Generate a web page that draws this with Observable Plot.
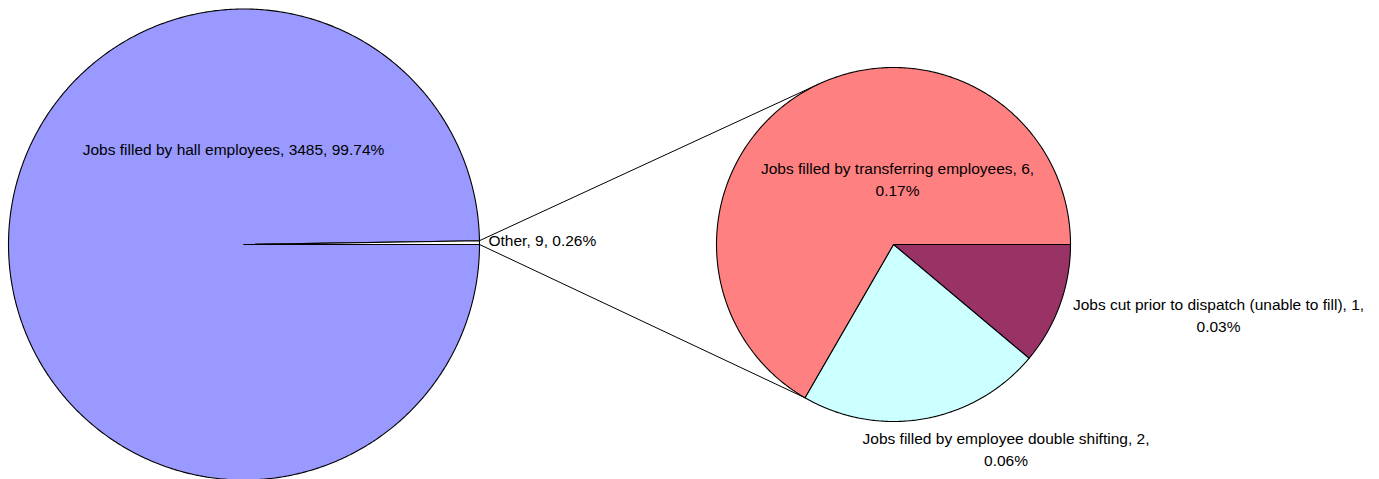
<!DOCTYPE html>
<html>
<head>
<meta charset="utf-8">
<script src="https://cdn.jsdelivr.net/npm/d3@7"></script>
<script src="https://cdn.jsdelivr.net/npm/@observablehq/plot@0.6"></script>
<style>
  html, body { margin: 0; padding: 0; background: #fff; }
  #chart svg { display: block; }
</style>
</head>
<body>
<div id="chart"></div>
<script>
// ---------- DATA ----------
const mainCategories = ["Jobs filled by hall employees", "Other"];
const mainValues = [3485, 9];
const mainPercents = ["99.74%", "0.26%"];

const otherCategories = [
  "Jobs cut prior to dispatch (unable to fill)",
  "Jobs filled by employee double shifting",
  "Jobs filled by transferring employees"
];
const otherValues = [1, 2, 6];
const otherPercents = ["0.03%", "0.06%", "0.17%"];

// ---------- STYLE / LAYOUT ----------
const W = 1379, H = 479;
const mainColors = ["#9999FF", "#FFFFFF"];
const otherColors = ["#993366", "#CCFFFF", "#FF8080"];
const big = {cx: 243.5, cy: 244, r: 235.5};
const small = {cx: 893, cy: 244, r: 177};
const font = "Liberation Sans, Arial, Helvetica, sans-serif";
const fs = 15.5;

const rad = d => d * Math.PI / 180;

// wedge polygon; angles in degrees, clockwise on screen from east
function wedge(c, a0, a1) {
  const pts = [[c.cx, c.cy]];
  const n = Math.max(2, Math.ceil(Math.abs(a1 - a0) / 0.5));
  for (let i = 0; i <= n; i++) {
    const a = rad(a0 + (a1 - a0) * i / n);
    pts.push([c.cx + c.r * Math.cos(a), c.cy + c.r * Math.sin(a)]);
  }
  return pts;
}

// Main pie: "Other" slice sits just above east (counter-clockwise from 0)
const mainTotal = d3.sum(mainValues);
const otherSweep = 360 * mainValues[1] / mainTotal;
const mainSlices = [
  {name: mainCategories[0], fill: mainColors[0], pts: wedge(big, -360, -otherSweep)},
  {name: mainCategories[1], fill: mainColors[1], pts: wedge(big, -otherSweep, 0)}
];

// Secondary pie: clockwise from east
const otherTotal = d3.sum(otherValues);
let acc = 0;
const otherSlices = otherValues.map((v, i) => {
  const a0 = acc, a1 = acc + 360 * v / otherTotal;
  acc = a1;
  return {name: otherCategories[i], fill: otherColors[i], a0, a1, pts: wedge(small, a0, a1)};
});

// connector lines
const pOtherTop = [big.cx + big.r * Math.cos(rad(-otherSweep)), big.cy + big.r * Math.sin(rad(-otherSweep))];
const pOtherBot = [big.cx + big.r, big.cy];
// top: tangent point on the secondary pie
const dx = small.cx - pOtherTop[0], dy = small.cy - pOtherTop[1];
const d = Math.hypot(dx, dy);
const base = Math.atan2(-dy, -dx);
const tA = base + Math.acos(small.r / d);
const pTop = [small.cx + small.r * Math.cos(tA), small.cy + small.r * Math.sin(tA)];
// bottom: end of the first two slices (boundary with transferring)
const bA = rad(otherSlices[1].a1);
const pBot = [small.cx + small.r * Math.cos(bA), small.cy + small.r * Math.sin(bA)];
const connectors = [
  {id: "top", pts: [pOtherTop, pTop]},
  {id: "bot", pts: [pOtherBot, pBot]}
];

// labels
const labels = [
  {text: `${mainCategories[0]}, ${mainValues[0]}, ${mainPercents[0]}`, x: 233, y: 147.5, anchor: "middle"},
  {text: `${mainCategories[1]}, ${mainValues[1]}, ${mainPercents[1]}`, x: 488, y: 238.5, anchor: "start"},
  {text: `${otherCategories[2]}, ${otherValues[2]},\n${otherPercents[2]}`, x: 897, y: 177, anchor: "middle"},
  {text: `${otherCategories[0]}, ${otherValues[0]},\n${otherPercents[0]}`, x: 1218, y: 313.5, anchor: "middle"},
  {text: `${otherCategories[1]}, ${otherValues[1]},\n${otherPercents[1]}`, x: 1005.5, y: 447, anchor: "middle"}
];

const sliceMarks = [...mainSlices, ...otherSlices].map(s =>
  Plot.line(s.pts, {x: p => p[0], y: p => p[1], fill: s.fill, stroke: "#000", strokeWidth: 1.1, curve: "linear-closed"})
);
const connMarks = connectors.map(c =>
  Plot.line(c.pts, {x: p => p[0], y: p => p[1], stroke: "#000", strokeWidth: 1})
);

const chart = Plot.plot({
  width: W, height: H,
  margin: 0,
  x: {domain: [0, W], range: [0, W], axis: null},
  y: {domain: [0, H], range: [0, H], axis: null},
  style: {background: "#fff", fontFamily: font},
  marks: [
    ...connMarks,
    ...sliceMarks,
    ...labels.map(l => Plot.text([l], {
      x: "x", y: "y", text: "text", textAnchor: l.anchor, lineAnchor: "middle",
      fontSize: fs, lineHeight: 1.42, fill: "#000", fontFamily: font
    }))
  ]
});
document.getElementById("chart").appendChild(chart);
</script>
</body>
</html>
